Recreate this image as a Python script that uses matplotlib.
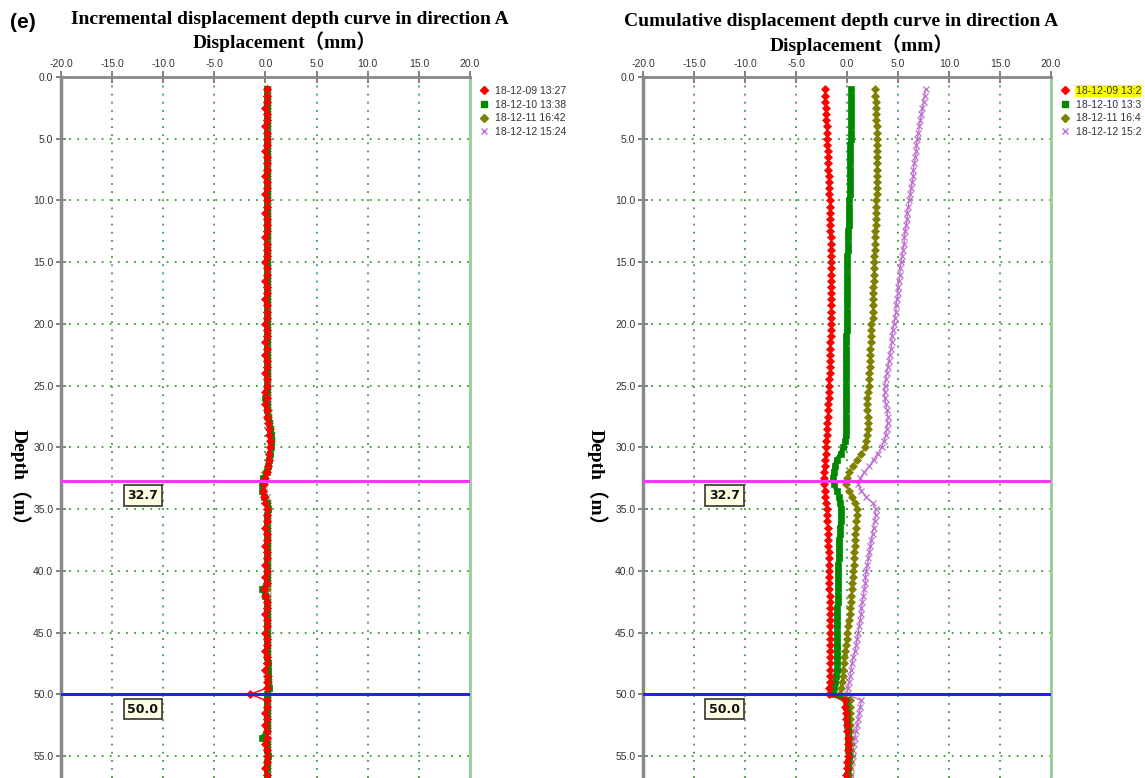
import matplotlib
matplotlib.use("Agg")
import matplotlib.pyplot as plt
from matplotlib.lines import Line2D

W, H = 1145, 778

# depth grid (m), one reading every 0.5 m
depth = [1.0, 1.5, 2.0, 2.5, 3.0, 3.5, 4.0, 4.5, 5.0,
         5.5, 6.0, 6.5, 7.0, 7.5, 8.0, 8.5, 9.0, 9.5, 10.0,
         10.5, 11.0, 11.5, 12.0, 12.5, 13.0, 13.5, 14.0, 14.5, 15.0,
         15.5, 16.0, 16.5, 17.0, 17.5, 18.0, 18.5, 19.0, 19.5, 20.0,
         20.5, 21.0, 21.5, 22.0, 22.5, 23.0, 23.5, 24.0, 24.5, 25.0,
         25.5, 26.0, 26.5, 27.0, 27.5, 28.0, 28.5, 29.0, 29.5, 30.0,
         30.5, 31.0, 31.5, 32.0, 32.5, 33.0, 33.5, 34.0, 34.5, 35.0,
         35.5, 36.0, 36.5, 37.0, 37.5, 38.0, 38.5, 39.0, 39.5, 40.0,
         40.5, 41.0, 41.5, 42.0, 42.5, 43.0, 43.5, 44.0, 44.5, 45.0,
         45.5, 46.0, 46.5, 47.0, 47.5, 48.0, 48.5, 49.0, 49.5, 50.0,
         50.5, 51.0, 51.5, 52.0, 52.5, 53.0, 53.5, 54.0, 54.5, 55.0,
         55.5, 56.0, 56.5, 57.0]

labels_inc = ["18-12-09 13:27", "18-12-10 13:38", "18-12-11 16:42", "18-12-12 15:24"]
labels_cum = ["18-12-09 13:2", "18-12-10 13:3", "18-12-11 16:4", "18-12-12 15:2"]

# incremental displacement (mm)
inc_09 = [0.1, 0.1, 0.1, 0.0, 0.1, 0.1, 0.0, 0.1, 0.1,
          0.1, 0.0, 0.1, 0.1, 0.1, 0.0, 0.1, 0.1, 0.0, 0.1,
          0.1, 0.0, 0.1, 0.1, 0.1, 0.0, 0.1, 0.1, 0.1, 0.0,
          0.1, 0.1, 0.0, 0.1, 0.1, 0.0, 0.1, 0.1, 0.1, 0.0,
          0.1, 0.1, 0.0, 0.1, 0.0, 0.1, 0.1, 0.0, 0.1, 0.1,
          0.0, 0.1, 0.0, 0.1, 0.1, 0.2, 0.3, 0.3, 0.4, 0.4,
          0.3, 0.3, 0.2, 0.1, 0.0, -0.1, -0.2, -0.1, 0.0, 0.1,
          0.1, 0.1, 0.0, 0.1, 0.1, 0.0, 0.1, 0.1, 0.0, 0.1,
          0.0, 0.1, -0.1, 0.0, 0.1, 0.1, 0.0, 0.1, 0.1, 0.0,
          0.1, 0.1, 0.0, 0.1, 0.1, 0.0, 0.1, 0.1, 0.1, -1.5,
          0.1, 0.1, 0.0, 0.1, 0.0, 0.1, 0.1, 0.0, 0.1, 0.1,
          0.1, 0.0, 0.1, 0.1]
inc_10 = [0.1, 0.1, 0.1, 0.1, 0.1, 0.1, 0.1, 0.1, 0.1,
          0.1, 0.1, 0.1, 0.1, 0.1, 0.1, 0.1, 0.1, 0.1, 0.1,
          0.1, 0.1, 0.1, 0.1, 0.1, 0.1, 0.1, 0.1, 0.1, 0.1,
          0.1, 0.1, 0.1, 0.1, 0.1, 0.1, 0.1, 0.1, 0.1, 0.1,
          0.1, 0.1, 0.1, 0.1, 0.1, 0.1, 0.1, 0.1, 0.1, 0.1,
          0.1, 0.0, 0.1, 0.1, 0.2, 0.3, 0.4, 0.5, 0.5, 0.5,
          0.4, 0.3, 0.2, 0.1, -0.2, -0.3, -0.3, -0.1, 0.1, 0.2,
          0.1, 0.1, 0.1, 0.1, 0.1, 0.1, 0.1, 0.1, 0.1, 0.1,
          0.1, 0.1, -0.3, 0.0, 0.1, 0.1, 0.1, 0.1, 0.1, 0.1,
          0.1, 0.1, 0.1, 0.1, 0.2, 0.2, 0.2, 0.2, 0.3, 0.1,
          0.1, 0.1, 0.1, 0.1, 0.1, 0.1, -0.3, 0.1, 0.1, 0.2,
          0.1, 0.1, 0.1, 0.1]
inc_11 = [0.1, 0.1, 0.1, 0.1, 0.1, 0.1, 0.1, 0.1, 0.1,
          0.1, 0.1, 0.1, 0.1, 0.1, 0.1, 0.1, 0.1, 0.1, 0.1,
          0.1, 0.1, 0.1, 0.1, 0.1, 0.1, 0.1, 0.1, 0.1, 0.1,
          0.1, 0.1, 0.1, 0.1, 0.1, 0.1, 0.1, 0.1, 0.1, 0.1,
          0.1, 0.1, 0.1, 0.1, 0.1, 0.1, 0.1, 0.1, 0.1, 0.1,
          0.1, 0.1, 0.1, 0.2, 0.2, 0.3, 0.4, 0.4, 0.5, 0.4,
          0.3, 0.3, 0.2, 0.0, -0.1, -0.2, -0.2, 0.0, 0.1, 0.1,
          0.1, 0.1, 0.1, 0.1, 0.1, 0.1, 0.1, 0.1, 0.1, 0.1,
          0.1, 0.1, 0.1, 0.1, 0.1, 0.1, 0.1, 0.1, 0.1, 0.1,
          0.1, 0.1, 0.1, 0.1, 0.1, 0.1, 0.2, 0.2, 0.2, 0.1,
          0.1, 0.1, 0.1, 0.1, 0.1, 0.1, 0.1, 0.1, 0.1, 0.1,
          0.1, 0.1, 0.1, 0.1]
inc_12 = [0.2, 0.2, 0.2, 0.2, 0.2, 0.2, 0.2, 0.2, 0.2,
          0.2, 0.2, 0.2, 0.2, 0.2, 0.2, 0.2, 0.2, 0.2, 0.2,
          0.2, 0.2, 0.2, 0.2, 0.2, 0.2, 0.2, 0.2, 0.2, 0.2,
          0.2, 0.2, 0.2, 0.2, 0.2, 0.2, 0.2, 0.2, 0.2, 0.2,
          0.2, 0.2, 0.2, 0.2, 0.2, 0.2, 0.2, 0.2, 0.2, 0.2,
          0.2, 0.2, 0.2, 0.2, 0.3, 0.4, 0.5, 0.6, 0.6, 0.5,
          0.4, 0.3, 0.2, 0.1, 0.0, -0.1, -0.1, 0.1, 0.2, 0.2,
          0.2, 0.2, 0.2, 0.2, 0.2, 0.2, 0.2, 0.2, 0.2, 0.2,
          0.2, 0.2, 0.2, 0.2, 0.2, 0.2, 0.2, 0.2, 0.2, 0.2,
          0.2, 0.2, 0.2, 0.2, 0.2, 0.2, 0.2, 0.3, 0.3, 0.2,
          0.2, 0.2, 0.2, 0.2, 0.2, 0.2, 0.2, 0.2, 0.2, 0.2,
          0.2, 0.2, 0.2, 0.2]

# cumulative displacement (mm)
cum_09 = [-2.2, -2.2, -2.2, -2.1, -2.1, -2.1, -2.0, -2.0, -2.0,
          -2.0, -1.9, -1.9, -1.9, -1.9, -1.8, -1.8, -1.8, -1.8, -1.7,
          -1.7, -1.7, -1.7, -1.7, -1.7, -1.6, -1.6, -1.6, -1.6, -1.6,
          -1.6, -1.6, -1.6, -1.6, -1.6, -1.6, -1.6, -1.6, -1.6, -1.6,
          -1.6, -1.6, -1.7, -1.7, -1.7, -1.7, -1.7, -1.7, -1.8, -1.8,
          -1.8, -1.8, -1.9, -1.9, -1.9, -2.0, -2.0, -2.0, -2.1, -2.1,
          -2.1, -2.2, -2.2, -2.3, -2.3, -2.3, -2.2, -2.2, -2.1, -2.0,
          -2.0, -2.0, -1.9, -1.9, -1.9, -1.9, -1.8, -1.8, -1.8, -1.8,
          -1.8, -1.8, -1.8, -1.7, -1.7, -1.7, -1.7, -1.7, -1.7, -1.7,
          -1.7, -1.7, -1.7, -1.7, -1.7, -1.7, -1.7, -1.7, -1.8, -1.8,
          -0.2, -0.2, -0.1, -0.1, 0.0, 0.0, 0.1, 0.1, 0.1, 0.1,
          0.0, 0.0, -0.1, -0.1]
cum_10 = [0.4, 0.4, 0.4, 0.4, 0.4, 0.4, 0.4, 0.4, 0.4,
          0.3, 0.3, 0.3, 0.3, 0.3, 0.3, 0.3, 0.3, 0.3, 0.2,
          0.2, 0.2, 0.2, 0.2, 0.1, 0.1, 0.1, 0.1, 0.0, 0.0,
          0.0, 0.0, 0.0, 0.0, 0.0, 0.0, 0.0, 0.0, 0.0, 0.0,
          0.0, -0.1, -0.1, -0.1, -0.1, -0.1, -0.1, -0.1, -0.1, -0.1,
          -0.1, -0.1, -0.1, -0.1, -0.1, -0.1, -0.1, -0.1, -0.2, -0.4,
          -0.6, -1.0, -1.2, -1.3, -1.4, -1.3, -1.0, -0.8, -0.7, -0.6,
          -0.6, -0.6, -0.7, -0.7, -0.8, -0.8, -0.8, -0.8, -0.9, -0.9,
          -0.9, -0.9, -0.9, -0.9, -0.9, -1.0, -1.0, -1.0, -1.0, -1.0,
          -1.0, -1.0, -1.0, -1.0, -1.0, -1.0, -1.1, -1.2, -1.3, -1.4,
          -0.1, -0.1, 0.0, 0.0, 0.0, 0.1, 0.1, 0.1, 0.1, 0.2,
          0.1, 0.1, 0.0, 0.0]
cum_11 = [2.7, 2.7, 2.8, 2.8, 2.8, 2.8, 2.9, 2.9, 2.9,
          2.9, 2.9, 2.9, 2.9, 2.9, 2.9, 2.9, 2.9, 2.9, 2.8,
          2.8, 2.8, 2.8, 2.8, 2.7, 2.7, 2.7, 2.7, 2.6, 2.6,
          2.6, 2.6, 2.6, 2.5, 2.5, 2.5, 2.5, 2.5, 2.5, 2.4,
          2.4, 2.4, 2.4, 2.3, 2.3, 2.3, 2.3, 2.2, 2.2, 2.2,
          2.1, 2.0, 2.0, 2.0, 2.1, 2.1, 2.1, 2.0, 1.9, 1.8,
          1.4, 1.0, 0.6, 0.2, 0.0, -0.1, 0.2, 0.5, 0.8, 1.0,
          1.0, 0.9, 0.9, 0.8, 0.8, 0.8, 0.7, 0.7, 0.7, 0.6,
          0.6, 0.5, 0.5, 0.4, 0.4, 0.3, 0.3, 0.2, 0.1, 0.0,
          0.0, -0.1, -0.2, -0.3, -0.3, -0.4, -0.4, -0.5, -0.6, -0.7,
          0.3, 0.3, 0.3, 0.3, 0.3, 0.3, 0.3, 0.3, 0.3, 0.3,
          0.3, 0.2, 0.2, 0.2]
cum_12 = [7.7, 7.6, 7.5, 7.4, 7.3, 7.2, 7.1, 7.0, 6.9,
          6.8, 6.8, 6.7, 6.6, 6.5, 6.5, 6.4, 6.3, 6.2, 6.1,
          6.0, 5.9, 5.9, 5.8, 5.7, 5.6, 5.6, 5.5, 5.4, 5.3,
          5.2, 5.2, 5.1, 5.0, 5.0, 4.9, 4.8, 4.8, 4.7, 4.6,
          4.5, 4.4, 4.4, 4.3, 4.2, 4.1, 4.0, 3.9, 3.8, 3.7,
          3.7, 3.7, 3.8, 3.9, 4.0, 4.0, 3.9, 3.8, 3.6, 3.4,
          3.0, 2.6, 2.2, 1.7, 1.3, 1.1, 1.4, 1.9, 2.5, 2.8,
          2.8, 2.7, 2.6, 2.5, 2.4, 2.3, 2.2, 2.1, 2.0, 1.9,
          1.8, 1.8, 1.7, 1.6, 1.5, 1.4, 1.4, 1.3, 1.2, 1.1,
          1.0, 0.9, 0.8, 0.6, 0.5, 0.4, 0.3, 0.2, 0.1, 0.0,
          1.4, 1.3, 1.2, 1.1, 1.0, 0.9, 0.8, 0.7, 0.6, 0.6,
          0.5, 0.4, 0.4, 0.3]

marks = [32.7, 50.0]
mark_colors = ["#ff33ff", "#2222ff"]
x_ticks = [-20, -15, -10, -5, 0, 5, 10, 15, 20]
y_ticks = [0, 5, 10, 15, 20, 25, 30, 35, 40, 45, 50, 55]

styles = [
    dict(color="#ff0000", marker="D", ms=4.3, lw=1.0),
    dict(color="#008800", marker="s", ms=4.8, lw=3.2),
    dict(color="#808000", marker="D", ms=3.8, lw=1.0),
    dict(color="#c070d0", marker="x", ms=4, lw=1.0, mew=0.9),
]

serif = ["Liberation Serif", "Noto Sans CJK SC"]
narrow = ["Liberation Sans Narrow", "Liberation Sans", "DejaVu Sans"]


def draw_panel(ax, series, labels, highlight=False):
    # plot in reverse so the first date ends up on top
    for vals, st in reversed(list(zip(series, styles))):
        ax.plot(vals, depth, color=st["color"], marker=st["marker"], ms=st["ms"],
                lw=st["lw"], mew=st.get("mew", 0.5), clip_on=True)
    for d, c in zip(marks, mark_colors):
        ax.axhline(d, color=c, lw=2.2, zorder=5)
        ax.text(-12.0, d + 1.2, "%.1f" % d, ha="center", va="center", fontsize=9,
                fontweight="bold", color="#111111", zorder=6,
                bbox=dict(boxstyle="square,pad=0.3", fc="#ffffe4", ec="#333333", lw=1.2))
    ax.set_xlim(-20, 20)
    ax.set_ylim(56.78, 0)
    ax.xaxis.tick_top()
    ax.set_xticks(x_ticks)
    ax.set_xticklabels(["%.1f" % v for v in x_ticks], family=narrow, fontsize=7.5, color="#333333")
    ax.set_yticks(y_ticks)
    ax.set_yticklabels(["%.1f" % v for v in y_ticks], family=narrow, fontsize=7.5, color="#333333")
    ax.tick_params(axis="x", direction="inout", length=9, width=1.3, color="#777777", pad=1)
    ax.tick_params(axis="y", direction="inout", length=7, width=1.3, color="#777777", pad=2)
    ax.grid(True, color="#33a033", linestyle=(0, (1, 3.5)), lw=1.3)
    ax.set_axisbelow(True)
    ax.spines["bottom"].set_visible(False)
    ax.spines["top"].set_color("#888888")
    ax.spines["top"].set_linewidth(2)
    ax.spines["left"].set_color("#888888")
    ax.spines["left"].set_linewidth(2.5)
    ax.spines["right"].set_color("#99cc99")
    ax.spines["right"].set_linewidth(2)

    handles = [Line2D([], [], ls="none", color=st["color"], marker=st["marker"],
                      ms=4, mew=1) for st in styles]
    leg = ax.legend(handles, labels, loc="upper left", bbox_to_anchor=(1.015, 0.993),
                    frameon=False, prop={"family": narrow, "size": 7.5},
                    handlelength=0.8, handletextpad=0.6, labelspacing=0.35, borderaxespad=0)
    for t in leg.get_texts():
        t.set_color("#333333")
    if highlight:
        leg.get_texts()[0].set_bbox(dict(fc="#ffff00", ec="none", pad=0.5))


fig = plt.figure(figsize=(W / 100, H / 100), dpi=100)
ax1 = fig.add_axes([61 / W, 0, 409 / W, 1 - 77 / H])
ax2 = fig.add_axes([643 / W, 0, 408 / W, 1 - 77 / H])

draw_panel(ax1, [inc_09, inc_10, inc_11, inc_12], labels_inc)
draw_panel(ax2, [cum_09, cum_10, cum_11, cum_12], labels_cum, highlight=True)

fig.text(290 / W, 1 - 19 / H, "Incremental displacement depth curve in direction A",
         ha="center", va="center", family=serif, fontweight="bold", fontsize=14)
fig.text(285 / W, 1 - 42 / H, "Displacement（mm）",
         ha="center", va="center", family=serif, fontweight="bold", fontsize=14)
fig.text(841 / W, 1 - 22 / H, "Cumulative displacement depth curve in direction A",
         ha="center", va="center", family=serif, fontweight="bold", fontsize=14)
fig.text(862 / W, 1 - 45 / H, "Displacement（mm）",
         ha="center", va="center", family=serif, fontweight="bold", fontsize=14)

for xp in (20, 597):
    fig.text(xp / W, 1 - 482 / H, "Depth（m）", rotation=-90, ha="center", va="center",
             family=serif, fontweight="bold", fontsize=14)

fig.text(10 / W, 1 - 22 / H, "(e)", ha="left", va="center", fontsize=15,
         fontweight="bold", family=["Liberation Sans", "DejaVu Sans"])

fig.savefig("out.png", dpi=100, facecolor="white")
